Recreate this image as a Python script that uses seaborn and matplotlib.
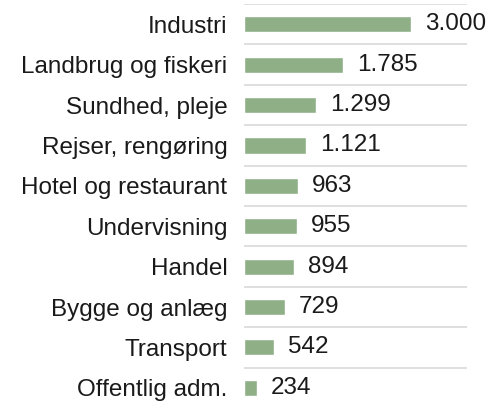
import numpy as np
import pandas as pd
import seaborn as sns
import matplotlib.pyplot as plt

categories = ['Industri', 'Landbrug og fiskeri', 'Sundhed, pleje', 'Rejser, rengøring',
              'Hotel og restaurant', 'Undervisning', 'Handel', 'Bygge og anlæg',
              'Transport', 'Offentlig adm.']
values = [3000, 1785, 1299, 1121, 963, 955, 894, 729, 542, 234]

df = pd.DataFrame({'kategori': categories, 'antal': values})

sns.set_style('white')
plt.rcParams['font.family'] = ['Liberation Sans', 'DejaVu Sans']

fig = plt.figure(figsize=(4.92, 4.08), dpi=100)
ax = fig.add_axes([0.496, 0.0, 0.453, 0.99])

sns.barplot(data=df, x='antal', y='kategori', color='#8fb087', width=0.4,
            saturation=1, ax=ax)

labels = [f'{v:,}'.replace(',', '.') for v in values]
ax.bar_label(ax.containers[0], labels=labels, padding=10, fontsize=17.5, color='#1a1a1a')

ax.set_xlim(0, 4000)
ax.set_ylim(len(categories) - 0.5, -0.5)
ax.set_xlabel('')
ax.set_ylabel('')
ax.set_xticks([])
ax.tick_params(axis='y', length=0, pad=12, labelsize=17.5, labelcolor='#1a1a1a')

# separator lines between categories
for yb in np.arange(-0.5, len(categories) - 0.5, 1.0):
    ax.axhline(yb, color='#d9d9d9', lw=1.2, zorder=0)

sns.despine(ax=ax, left=True, bottom=True)

plt.savefig('out.png', dpi=100)
plt.close()
